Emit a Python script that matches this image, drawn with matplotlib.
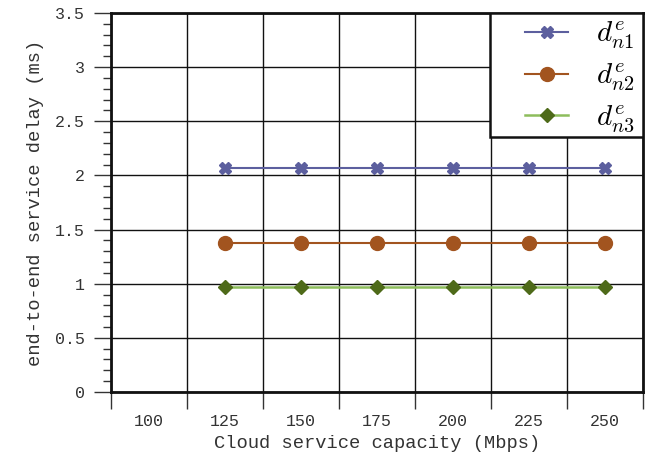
import numpy as np
import matplotlib
matplotlib.use("Agg")
import matplotlib.pyplot as plt
from matplotlib.patches import Rectangle
from matplotlib.ticker import MultipleLocator, FixedLocator, NullFormatter, FixedFormatter

# cloud service capacity (Mbps)
capacity = [125, 150, 175, 200, 225, 250]
# end-to-end service delay (ms)
delay_n1 = [2.07, 2.07, 2.07, 2.07, 2.07, 2.07]
delay_n2 = [1.38, 1.38, 1.38, 1.38, 1.38, 1.38]
delay_n3 = [0.965, 0.965, 0.965, 0.965, 0.965, 0.965]
xtick_labels = ['100', '125', '150', '175', '200', '225', '250']
ytick_labels = ['0', '0.5', '1', '1.5', '2', '2.5', '3', '3.5']

plt.rcParams['font.family'] = ['Liberation Mono', 'DejaVu Sans Mono']
plt.rcParams['mathtext.fontset'] = 'cm'

fig = plt.figure(figsize=(6.55, 4.61), dpi=100)
ax = fig.add_axes([0.1695, 0.1497, 0.8115, 0.8223])

ax.plot(capacity, delay_n1, color='#5c5f9e', lw=1.5, marker='X', ms=9,
        mec='#5c5f9e', label=r'$d^e_{n1}$', zorder=3)
ax.plot(capacity, delay_n2, color='#a2541f', lw=1.5, marker='o', ms=10,
        label=r'$d^e_{n2}$', zorder=3)
ax.plot(capacity, delay_n3, color='#8dbd5c', lw=1.8, marker='D', ms=7,
        mfc='#4e6a19', mec='#4e6a19', label=r'$d^e_{n3}$', zorder=3)

ax.set_xlim(87.5, 262.5)
ax.set_ylim(0, 3.5)

# major x ticks sit between the labelled capacities
ax.xaxis.set_major_locator(FixedLocator(np.arange(87.5, 263, 25)))
ax.xaxis.set_major_formatter(NullFormatter())
ax.xaxis.set_minor_locator(FixedLocator(np.arange(100, 251, 25)))
ax.xaxis.set_minor_formatter(FixedFormatter(xtick_labels))
ax.tick_params(axis='x', which='major', direction='out', length=12, width=1, color='#333333')
ax.tick_params(axis='x', which='minor', length=0, pad=16, labelsize=12, labelcolor='#333333')

ax.set_yticks(np.arange(0, 3.51, 0.5))
ax.set_yticklabels(ytick_labels)
ax.yaxis.set_minor_locator(MultipleLocator(0.1))
ax.tick_params(axis='y', which='major', direction='out', length=12, width=1, color='#333333',
               labelsize=12, labelcolor='#333333', pad=7)
ax.tick_params(axis='y', which='minor', direction='out', length=6, width=1, color='#333333')

ax.grid(True, which='major', color='#111111', lw=1)
ax.set_axisbelow(True)
for s in ax.spines.values():
    s.set_linewidth(2)
    s.set_color('#111111')

ax.set_xlabel('Cloud service capacity (Mbps)', fontsize=13.5, color='#333333', labelpad=4)
ax.set_ylabel('end-to-end service delay (ms)', fontsize=13.5, color='#333333', labelpad=8)

# legend box drawn separately so the entries can sit off-centre inside it
box = Rectangle((0.7137, 0.673), 0.2863, 0.327, transform=ax.transAxes,
                facecolor='white', edgecolor='#111111', lw=1.8, zorder=4)
ax.add_patch(box)
leg = ax.legend(loc='upper right', bbox_to_anchor=(0.991, 0.99), fontsize=21, frameon=False,
                borderaxespad=0, handlelength=1.5, labelspacing=0.35, borderpad=0.1,
                handletextpad=0.95)
leg.set_zorder(5)

fig.savefig('out.png', dpi=100)
